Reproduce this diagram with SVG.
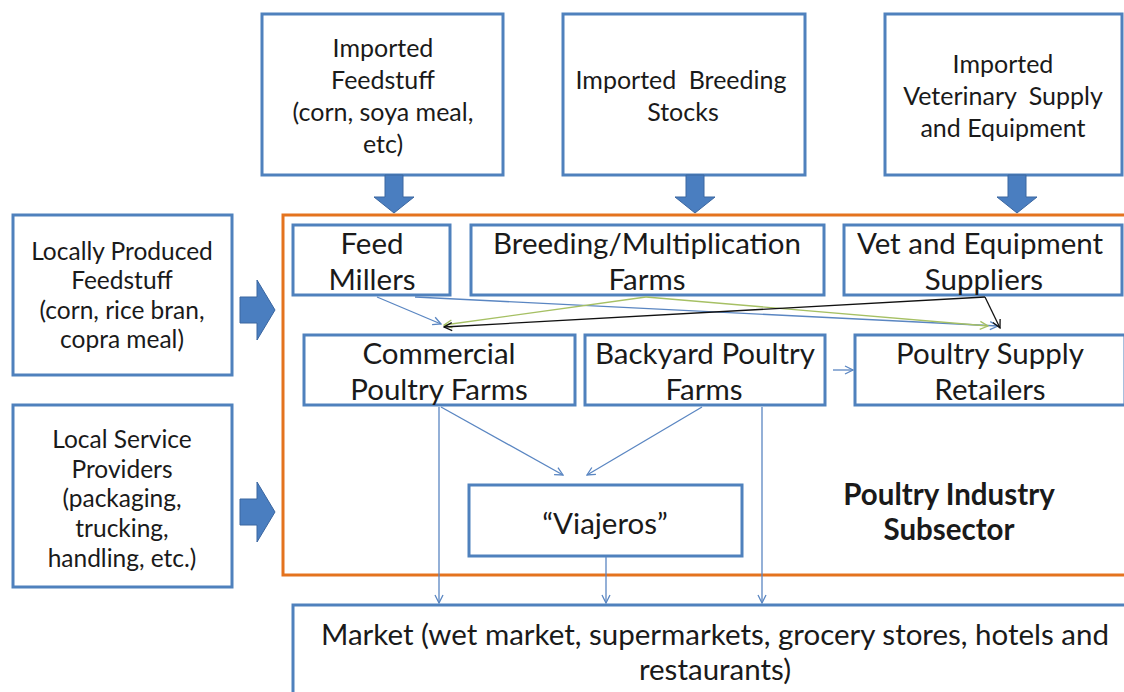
<svg xmlns="http://www.w3.org/2000/svg" width="1124" height="692" viewBox="0 0 1124 692">
  <style>
    .box { fill: #ffffff; stroke: #4F81BD; stroke-width: 3; }
    .frame { fill: none; stroke: #E4731E; stroke-width: 3; }
    .block { fill: #4A7EC0; stroke: #3A66A0; stroke-width: 1; }
    text { font-family: Lato, "Open Sans", "DejaVu Sans", sans-serif; fill: #1a1a1a; text-anchor: middle; dominant-baseline: central; }
    .top { font-size: 25px; }
    .side { font-size: 24.5px; }
    .inner { font-size: 29.5px; }
    .title { font-size: 29.5px; font-weight: bold; }
    .c-blue { stroke: #5A86C2; stroke-width: 1.3; fill: none; }
    .c-green { stroke: #A6C064; stroke-width: 1.3; fill: none; }
    .c-black { stroke: #111111; stroke-width: 1.3; fill: none; }
  </style>
  <defs>
    <marker id="ah-blue" viewBox="0 0 10 10" refX="9" refY="5" markerWidth="10" markerHeight="10" markerUnits="userSpaceOnUse" orient="auto">
      <path d="M1,1 L9,5 L1,9" fill="none" stroke="#5A86C2" stroke-width="1.3"/>
    </marker>
    <marker id="ah-green" viewBox="0 0 10 10" refX="9" refY="5" markerWidth="10" markerHeight="10" markerUnits="userSpaceOnUse" orient="auto">
      <path d="M1,1 L9,5 L1,9" fill="none" stroke="#A6C064" stroke-width="1.3"/>
    </marker>
    <marker id="ah-black" viewBox="0 0 10 10" refX="9" refY="5" markerWidth="10" markerHeight="10" markerUnits="userSpaceOnUse" orient="auto">
      <path d="M1,1 L9,5 L1,9" fill="none" stroke="#111111" stroke-width="1.3"/>
    </marker>
  </defs>

  <rect width="1124" height="692" fill="#ffffff"/>

  <!-- subsector frame -->
  <g id="subsector">
    <rect class="frame" x="283" y="215" width="860" height="360"/>
    <text class="title" x="949" y="493">Poultry Industry</text>
    <text class="title" x="949" y="528">Subsector</text>
  </g>

  <!-- imported inputs -->
  <g id="imported-feedstuff">
    <rect class="box" x="262" y="14" width="241" height="161"/>
    <text class="top" x="383" y="47">Imported</text>
    <text class="top" x="383" y="79">Feedstuff</text>
    <text class="top" x="383" y="111">(corn, soya meal,</text>
    <text class="top" x="383" y="143">etc)</text>
  </g>
  <g id="imported-breeding">
    <rect class="box" x="563" y="14" width="242" height="161"/>
    <text class="top" x="681" y="79" word-spacing="6">Imported Breeding</text>
    <text class="top" x="683" y="111">Stocks</text>
  </g>
  <g id="imported-veterinary">
    <rect class="box" x="885" y="14" width="237" height="161"/>
    <text class="top" x="1003" y="63">Imported</text>
    <text class="top" x="1003" y="95" word-spacing="6">Veterinary Supply</text>
    <text class="top" x="1003" y="127">and Equipment</text>
  </g>

  <!-- local inputs -->
  <g id="local-feedstuff">
    <rect class="box" x="13" y="215" width="219" height="160"/>
    <text class="side" x="122" y="250">Locally Produced</text>
    <text class="side" x="122" y="279.5">Feedstuff</text>
    <text class="side" x="122" y="309">(corn, rice bran,</text>
    <text class="side" x="122" y="338.5">copra meal)</text>
  </g>
  <g id="local-services">
    <rect class="box" x="13" y="405" width="219" height="182"/>
    <text class="side" x="122" y="438">Local Service</text>
    <text class="side" x="122" y="468">Providers</text>
    <text class="side" x="122" y="497">(packaging,</text>
    <text class="side" x="122" y="527">trucking,</text>
    <text class="side" x="122" y="557">handling, etc.)</text>
  </g>

  <!-- block arrows into the subsector -->
  <g id="inflow-arrows">
    <path class="block" d="M385,175 H403 V197 H414 L394,213 L374,197 H385 Z"/>
    <path class="block" d="M686,175 H704 V197 H715 L695,213 L675,197 H686 Z"/>
    <path class="block" d="M1008,175 H1026 V197 H1037 L1017,213 L997,197 H1008 Z"/>
    <path class="block" d="M240,297 H257 V280 L275,310 L257,340 V323 H240 Z"/>
    <path class="block" d="M240,499 H257 V482 L275,512 L257,542 V525 H240 Z"/>
  </g>

  <!-- subsector actors -->
  <g id="feed-millers">
    <rect class="box" x="293" y="225" width="157" height="70"/>
    <text class="inner" x="372" y="242">Feed</text>
    <text class="inner" x="372" y="278">Millers</text>
  </g>
  <g id="breeding-farms">
    <rect class="box" x="471" y="225" width="353" height="70"/>
    <text class="inner" x="647" y="242">Breeding/Multiplication</text>
    <text class="inner" x="647" y="278">Farms</text>
  </g>
  <g id="vet-suppliers">
    <rect class="box" x="844" y="225" width="278" height="70"/>
    <text class="inner" x="980" y="242">Vet and Equipment</text>
    <text class="inner" x="984" y="278">Suppliers</text>
  </g>
  <g id="commercial-farms">
    <rect class="box" x="304" y="335" width="271" height="70"/>
    <text class="inner" x="439" y="352">Commercial</text>
    <text class="inner" x="439" y="388">Poultry Farms</text>
  </g>
  <g id="backyard-farms">
    <rect class="box" x="585" y="335" width="240" height="70"/>
    <text class="inner" x="705" y="352">Backyard Poultry</text>
    <text class="inner" x="704" y="388">Farms</text>
  </g>
  <g id="supply-retailers">
    <rect class="box" x="855" y="335" width="270" height="70"/>
    <text class="inner" x="990" y="352">Poultry Supply</text>
    <text class="inner" x="990" y="388">Retailers</text>
  </g>
  <g id="viajeros">
    <rect class="box" x="469" y="485" width="273" height="71"/>
    <text class="inner" x="605" y="522">“Viajeros”</text>
  </g>

  <!-- market -->
  <g id="market">
    <rect class="box" x="293" y="605" width="850" height="100"/>
    <text class="inner" x="715" y="633">Market (wet market, supermarkets, grocery stores, hotels and</text>
    <text class="inner" x="715" y="668">restaurants)</text>
  </g>

  <!-- flows between actors -->
  <g id="connectors">
    <line class="c-blue" x1="377" y1="297" x2="441" y2="324" marker-end="url(#ah-blue)"/>
    <line class="c-blue" x1="415" y1="297" x2="998" y2="326" marker-end="url(#ah-blue)"/>
    <line class="c-green" x1="646" y1="297" x2="444" y2="325" marker-end="url(#ah-green)"/>
    <line class="c-green" x1="646" y1="297" x2="988" y2="326" marker-end="url(#ah-green)"/>
    <line class="c-black" x1="985" y1="297" x2="444" y2="327" marker-end="url(#ah-black)"/>
    <line class="c-black" x1="985" y1="297" x2="1000" y2="328" marker-end="url(#ah-black)"/>
    <line class="c-blue" x1="833" y1="370" x2="853" y2="370" marker-end="url(#ah-blue)"/>
    <line class="c-blue" x1="441" y1="407" x2="563" y2="475" marker-end="url(#ah-blue)"/>
    <line class="c-blue" x1="702" y1="407" x2="587" y2="475" marker-end="url(#ah-blue)"/>
    <line class="c-blue" x1="439" y1="407" x2="439" y2="603" marker-end="url(#ah-blue)"/>
    <line class="c-blue" x1="606" y1="557" x2="606" y2="603" marker-end="url(#ah-blue)"/>
    <line class="c-blue" x1="762" y1="407" x2="762" y2="603" marker-end="url(#ah-blue)"/>
  </g>
</svg>
